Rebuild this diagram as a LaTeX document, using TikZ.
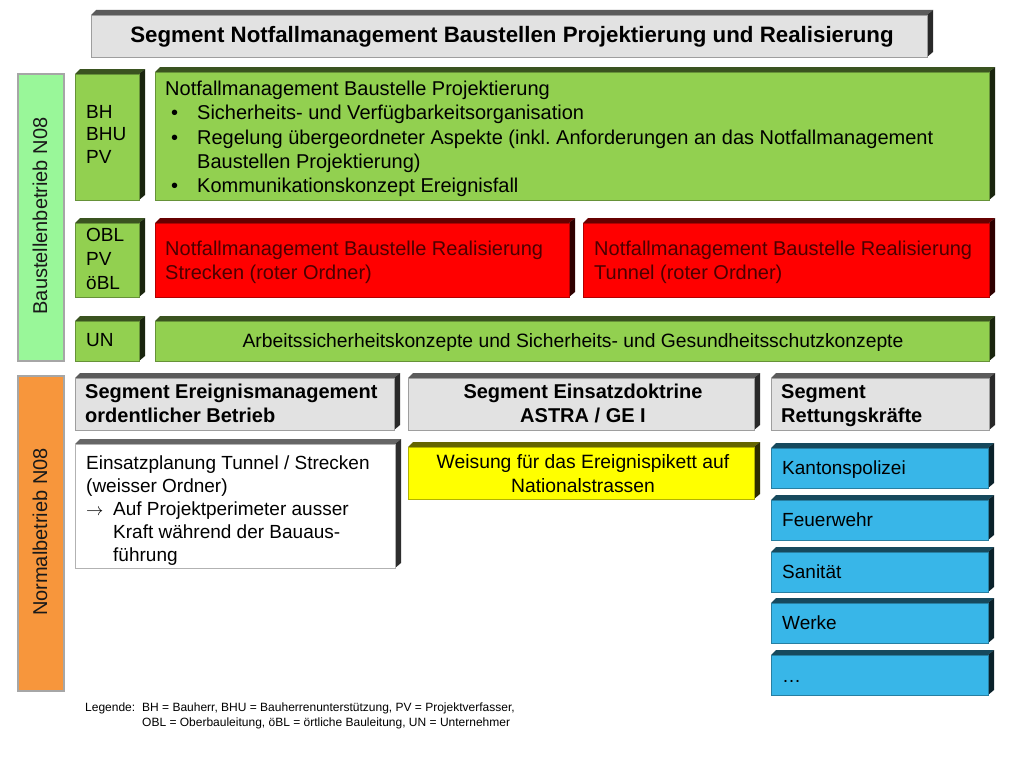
\documentclass[tikz,border=0pt]{standalone}
\usepackage{fontspec}
\setmainfont{Liberation Sans}
\frenchspacing
\definecolor{cgreen}{RGB}{146,208,80}
\definecolor{cred}{RGB}{255,0,0}
\definecolor{cgray}{RGB}{226,226,226}
\definecolor{cblue}{RGB}{56,182,232}
\definecolor{cyellow}{RGB}{255,255,0}
\definecolor{clgreen}{RGB}{153,247,153}
\definecolor{corange}{RGB}{247,150,60}
\definecolor{ctxtred}{RGB}{75,0,0}
\newcommand\cubebox[6]{%
  \fill[#6!40!black] (#2,#3+5) -- (#2+5,#3) -- (#4,#3) -- (#4-6,#3+5) -- cycle;
  \fill[#6!18!black] (#4-6,#3+5) -- (#4,#3) -- (#4,#5-5) -- (#4-6,#5) -- cycle;
  \node[front, fill=#6, draw=#6!70!black, minimum width={(#4-#2-6)*1pt}, minimum height={(#5-#3-5)*1pt}] (#1) at (#2,#3+5) {};
}
\tikzset{
  front/.style={anchor=north west, inner sep=0pt, outer sep=0pt, line width=0.4pt},
  sidebar/.style={anchor=north west, inner sep=0pt, draw=black!35, line width=1.5pt},
  tnn/.style={inner sep=0pt, align=left, anchor=north west, font=\fontsize{19}{22.5}\selectfont},
  tbig/.style={inner sep=0pt, align=left, anchor=north west, font=\fontsize{20}{24.2}\selectfont},
  thead/.style={inner sep=0pt, font=\bfseries\fontsize{20}{24}\selectfont},
  tone/.style={inner sep=0pt, anchor=base west, font=\fontsize{19}{23}\selectfont},
  vert/.style={inner sep=0pt, rotate=90, font=\fontsize{20}{24}\selectfont, text=black!90},
}
\begin{document}
\begin{tikzpicture}[x=1pt,y=-1pt]
\useasboundingbox (0,0) rectangle (1024,768);
\fill[white] (0,0) rectangle (1024,768);

% side bars
\node[sidebar, fill=clgreen, minimum width=46pt, minimum height=287pt] (barbau) at (17,73) {};
\node[sidebar, fill=corange, minimum width=46pt, minimum height=315pt] (barnorm) at (17,375) {};
\node[vert] (barbautxt) at (40,216) {Baustellenbetrieb N08};
\node[vert] (barnormtxt) at (40,532) {Normalbetrieb N08};

% boxes
\cubebox{title}{91}{10}{933}{57}{cgray}
\cubebox{bh}{75}{69}{145}{200}{cgreen}
\cubebox{proj}{155}{67}{995}{200}{cgreen}
\cubebox{obl}{75}{218}{145}{297}{cgreen}
\cubebox{real1}{155}{218}{575}{297}{cred}
\cubebox{real2}{583}{218}{995}{297}{cred}
\cubebox{un}{75}{316}{145}{361}{cgreen}
\cubebox{arb}{155}{316}{995}{361}{cgreen}
\cubebox{seg1}{75}{373}{400}{430}{cgray}
\cubebox{seg2}{408}{373}{760}{430}{cgray}
\cubebox{seg3}{771}{373}{995}{430}{cgray}
\cubebox{einsatz}{75}{439}{401}{568}{white}
\cubebox{weisung}{408}{442}{760}{499}{cyellow}
\cubebox{kapo}{771}{443}{994}{488}{cblue}
\cubebox{feuer}{771}{495}{994}{540}{cblue}
\cubebox{sani}{771}{547}{994}{592}{cblue}
\cubebox{werke}{771}{598}{994}{643}{cblue}
\cubebox{more}{771}{650}{994}{695}{cblue}

% texts
\node[inner sep=0pt, anchor=base, font=\bfseries\fontsize{22.3}{26}\selectfont] (titletxt) at (512,43) {Segment Notfallmanagement Baustellen Projektierung und Realisierung};
\node[tnn] (bhtxt) at (86,105) {BH\\BHU\\PV};
\node[tbig] (projtxt) at (165,81) {Notfallmanagement Baustelle Projektierung\\
\makebox[32pt][l]{\hspace{6pt}•}Sicherheits- und Verfügbarkeitsorganisation\\
\makebox[32pt][l]{\hspace{6pt}•}Regelung übergeordneter Aspekte (inkl. Anforderungen an das Notfallmanagement\\
\hspace*{32pt}Baustellen Projektierung)\\
\makebox[32pt][l]{\hspace{6pt}•}Kommunikationskonzept Ereignisfall};
\node[tnn, font=\fontsize{19}{24}\selectfont] (obltxt) at (86,228) {OBL\\PV\\öBL};
\node[tbig, text=ctxtred] (real1txt) at (165,241) {Notfallmanagement Baustelle Realisierung\\Strecken (roter Ordner)};
\node[tbig, text=ctxtred] (real2txt) at (594,241) {Notfallmanagement Baustelle Realisierung\\Tunnel (roter Ordner)};
\node[tone] (untxt) at (86,346) {UN};
\node[inner sep=0pt, anchor=base, font=\fontsize{19.3}{23}\selectfont] (arbtxt) at (573,347) {Arbeitssicherheitskonzepte und Sicherheits- und Gesundheitsschutzkonzepte};

\node[thead, anchor=north west, align=left] (seg1txt) at (85,384) {Segment Ereignismanagement\\ordentlicher Betrieb};
\node[thead, anchor=north, align=center] (seg2txt) at (583,384) {Segment Einsatzdoktrine\\ASTRA / GE I};
\node[thead, anchor=north west, align=left] (seg3txt) at (781,384) {Segment\\Rettungskräfte};

\node[tnn, font=\fontsize{19}{23}\selectfont] (einsatztxt) at (86,456) {Einsatzplanung Tunnel / Strecken\\
(weisser Ordner)\\
\makebox[27pt][l]{$\rightarrow$}Auf Projektperimeter ausser\\
\hspace*{27pt}Kraft während der Bauaus-\\
\hspace*{27pt}führung};
\node[inner sep=0pt, anchor=north, align=center, font=\fontsize{19.3}{24}\selectfont] (weisungtxt) at (583,454) {Weisung für das Ereignispikett auf\\Nationalstrassen};

\node[tone] (kapotxt) at (782,474) {Kantonspolizei};
\node[tone] (feuertxt) at (782,526) {Feuerwehr};
\node[tone] (sanitxt) at (782,578) {Sanität};
\node[tone] (werketxt) at (782,629) {Werke};
\node[tone] (moretxt) at (782,682) {…};

\node[inner sep=0pt, anchor=north west, align=left, font=\fontsize{12}{15}\selectfont] (legend) at (85,703) {\makebox[57pt][l]{Legende:}BH = Bauherr, BHU = Bauherrenunterstützung, PV = Projektverfasser,\\
\hspace*{57pt}OBL = Oberbauleitung, öBL = örtliche Bauleitung, UN = Unternehmer};
\end{tikzpicture}
\end{document}
